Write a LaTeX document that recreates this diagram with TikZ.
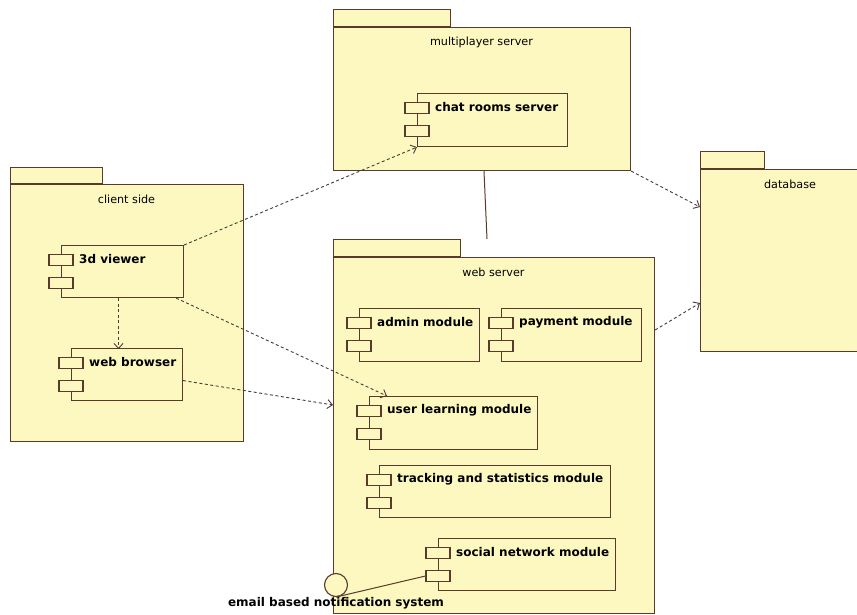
\documentclass[tikz,border=0pt]{standalone}
\usepackage{fontspec}
\setmainfont{DejaVu Sans}
\usetikzlibrary{arrows.meta,calc}
\definecolor{pkgfill}{HTML}{FDF8C0}
\definecolor{edge}{HTML}{5A3A2C}
\definecolor{depcol}{HTML}{4A3A3A}

\tikzset{
  pkgbody/.style={draw=edge, fill=pkgfill, line width=1.1pt, rectangle, inner sep=0pt, anchor=north west},
  pkgtab/.style={draw=edge, fill=pkgfill, line width=1.1pt, rectangle, inner sep=0pt, anchor=south west},
  pkglabel/.style={font=\fontsize{11.2}{13}\selectfont, text=black, inner sep=0pt},
  compbody/.style={draw=edge, fill=pkgfill, line width=1.1pt, rectangle, inner sep=0pt, anchor=north west},
  port/.style={draw=edge, fill=pkgfill, line width=1.1pt, rectangle, inner sep=0pt,
    minimum width=24pt, minimum height=11pt},
  complabel/.style={font=\bfseries\fontsize{12}{14}\selectfont, text=black, inner sep=0pt, anchor=west},
  dep/.style={draw=depcol, line width=0.9pt, dash pattern=on 3pt off 2.5pt,
    -{Straight Barb[length=5pt,width=9pt,line width=0.9pt]}},
  assoc/.style={draw=edge, line width=1pt},
}

% package: name, tab right x, tab top y, body top y, body right x, body bottom y, left x, label
\newcommand\umlpackage[8]{%
  \node[pkgtab, minimum width={#2-#7}, minimum height={#4-#3}] (#1-tab) at (#7,#4) {};
  \node[pkgbody, minimum width={#5-#7}, minimum height={#6-#4}] (#1) at (#7,#4) {};
  \node[pkglabel] (#1-label) at ({(#7+#5)/2},#4+15) {#8};
}
% component: name, left x, top y, right x, bottom y, label
\newcommand\umlcomponent[6]{%
  \node[compbody, minimum width={#4-#2}, minimum height={#5-#3}] (#1) at (#2,#3) {};
  \node[port] (#1-p1) at (#2,#3+15) {};
  \node[port] (#1-p2) at (#2,#3+38) {};
  \node[complabel] (#1-label) at (#2+18,#3+14) {#6};
}

\begin{document}
\begin{tikzpicture}[x=1pt,y=-1pt]
\useasboundingbox (0,0) rectangle (857,615);
\clip (0,0) rectangle (857,615);
\fill[white] (0,0) rectangle (857,615);

% packages
\umlpackage{mp}{450}{10}{27}{630}{170}{333}{multiplayer server}
\umlpackage{cs}{102}{168}{184}{243}{441}{10}{client side}
\umlpackage{ws}{460}{240}{257}{654}{613}{333}{web server}
\umlpackage{db}{764}{152}{169}{880}{351}{700}{database}

% components
\umlcomponent{cr}{417}{93}{567}{146}{chat rooms server}
\umlcomponent{tv}{61}{245}{183}{297}{3d viewer}
\umlcomponent{wb}{71}{348}{182}{400}{web browser}
\umlcomponent{am}{359}{308}{479}{361}{admin module}
\umlcomponent{pm}{501}{308}{641}{361}{payment module}
\umlcomponent{ul}{369}{396}{537}{449}{user learning module}
\umlcomponent{ts}{379}{465}{610}{517}{tracking and statistics module}
\umlcomponent{sn}{438}{538}{615}{590}{social network module}

% provided interface
\node[draw=edge, fill=pkgfill, line width=1.1pt, circle, minimum size=23pt, inner sep=0pt] (email) at (336,585) {};
\node[complabel, anchor=center] (email-label) at (336,603) {email based notification system};
\draw[assoc] (email.south) -- (sn-p2.west);

% dependencies
\draw[dep] (tv.north east) -- (cr.south west);
\draw[dep] ($(tv.south)+(-4,0)$) -- ($(tv.south)+(-4,51)$) coordinate (wbtop);
\draw[dep] ($(tv.south east)+(-8,0)$) -- ($(ul.north west)+(18,0)$);
\draw[dep] ($(wb.east)+(0,6)$) -- ($(ws.north west)+(0,148)$);
\draw[dep] (mp.south east) -- ($(db.north west)+(0,38)$);
\draw[dep] ($(ws.north east)+(0,73)$) -- ($(db.north west)+(0,134)$);

% association between the servers
\coordinate (wsend) at (487,239);
\draw[assoc] ($(mp.south west)+(151,0)$) -- (wsend);
\end{tikzpicture}
\end{document}
